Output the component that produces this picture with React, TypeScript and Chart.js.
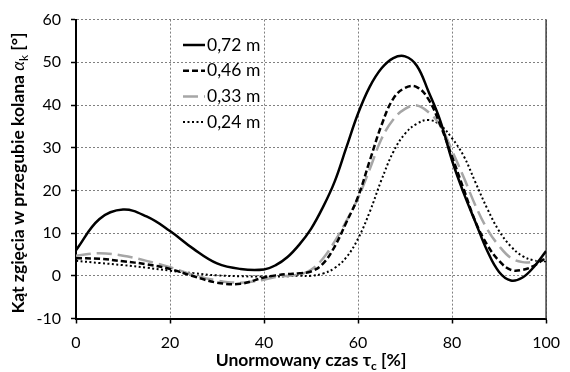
import React, { useEffect, useRef } from "react";
import { Chart, registerables } from "chart.js";

Chart.register(...registerables);

// Normalised time [%]
const time = [0, 5, 10, 15, 20, 25, 30, 35, 40, 42.5, 45, 47.5, 50, 52.5, 55, 57.5, 60, 62.5, 65, 67.5, 70, 72.5, 75, 77.5, 80, 82.5, 85, 87.5, 90, 92.5, 95, 97.5, 100];

const seriesLabels = ["0,72 m", "0,46 m", "0,33 m", "0,24 m"];

const s072 = [6.0, 13.3, 15.5, 13.9, 10.5, 6.3, 2.9, 1.6, 1.5, 2.5, 4.4, 7.3, 11.0, 16.0, 22.0, 30.0, 38.0, 44.3, 48.6, 51.0, 51.4, 49.2, 43.1, 36.3, 27.0, 19.3, 12.5, 5.8, 0.9, -1.1, -0.4, 2.2, 5.8];
const s046 = [4.1, 4.0, 3.4, 2.7, 1.6, -0.1, -1.6, -1.85, -0.4, 0.1, 0.4, 0.6, 1.0, 2.8, 6.8, 12.5, 18.5, 27.0, 35.3, 41.5, 44.0, 44.2, 41.3, 35.3, 27.9, 20.2, 12.6, 7.2, 3.5, 1.4, 1.4, 2.4, 4.3];
const s033 = [4.7, 5.3, 4.7, 3.5, 2.0, 0.2, -1.1, -1.6, -0.9, -0.3, 0.0, 0.3, 1.4, 4.0, 8.0, 12.8, 18.2, 25.0, 32.1, 36.6, 39.1, 39.9, 38.3, 35.2, 29.3, 23.0, 16.4, 10.9, 7.0, 4.2, 3.2, 3.3, 3.8];
const s024 = [3.5, 3.0, 2.5, 1.9, 1.2, 0.6, 0.1, -0.1, -0.2, -0.2, -0.1, 0.0, 0.0, 0.5, 1.8, 4.3, 8.7, 15.0, 22.5, 29.0, 33.3, 35.6, 36.5, 35.3, 32.2, 28.0, 21.8, 15.7, 10.5, 6.9, 4.6, 3.6, 3.4];

const xTicks = [0, 20, 40, 60, 80, 100];
const yTicks = [-10, 0, 10, 20, 30, 40, 50, 60];

const FONT = 'Lato, "Open Sans", "DejaVu Sans", sans-serif';

type Part = { text: string; font: string; dy?: number };

function drawRich(ctx: CanvasRenderingContext2D, parts: Part[], cx: number, y: number) {
  let total = 0;
  for (const p of parts) {
    ctx.font = p.font;
    total += ctx.measureText(p.text).width;
  }
  let x = cx - total / 2;
  for (const p of parts) {
    ctx.font = p.font;
    ctx.fillText(p.text, x, y + (p.dy || 0));
    x += ctx.measureText(p.text).width;
  }
}

const decorPlugin = {
  id: "decor",
  beforeDatasetsDraw(chart: any) {
    const { ctx, chartArea } = chart;
    ctx.save();
    ctx.strokeStyle = "#404040";
    ctx.lineWidth = 1.5;
    ctx.beginPath();
    ctx.moveTo(chartArea.right, chartArea.top);
    ctx.lineTo(chartArea.right, chartArea.bottom);
    ctx.stroke();
    ctx.restore();
  },
  afterDraw(chart: any) {
    const { ctx, chartArea } = chart;
    ctx.save();
    // legend
    chart.data.datasets.forEach((ds: any, i: number) => {
      const y = 45 + i * 25.7;
      const x0 = chartArea.left + 107;
      ctx.beginPath();
      ctx.setLineDash(ds.borderDash || []);
      ctx.strokeStyle = ds.borderColor;
      ctx.lineWidth = ds.borderWidth;
      ctx.moveTo(x0, y);
      ctx.lineTo(x0 + 22, y);
      ctx.stroke();
      ctx.setLineDash([]);
      ctx.fillStyle = "#000";
      ctx.font = `17.5px ${FONT}`;
      ctx.textBaseline = "middle";
      ctx.textAlign = "left";
      ctx.fillText(ds.label, x0 + 24, y);
    });
    // x title
    ctx.fillStyle = "#000";
    ctx.textBaseline = "alphabetic";
    ctx.textAlign = "left";
    const cx = (chartArea.left + chartArea.right) / 2;
    drawRich(
      ctx,
      [
        { text: "Unormowany czas τ", font: `bold 17.5px ${FONT}` },
        { text: "c", font: `bold 12px ${FONT}`, dy: 4 },
        { text: " [%]", font: `bold 17.5px ${FONT}` },
      ],
      cx,
      366
    );
    // y title
    ctx.translate(24, (chartArea.top + chartArea.bottom) / 2 + 4);
    ctx.rotate(-Math.PI / 2);
    drawRich(
      ctx,
      [
        { text: "Kąt zgięcia w przegubie kolana ", font: `bold 17.5px ${FONT}` },
        { text: "α", font: `italic 17.5px ${FONT}` },
        { text: "k", font: `12px ${FONT}`, dy: 4 },
        { text: " [°]", font: `bold 17.5px ${FONT}` },
      ],
      0,
      0
    );
    ctx.restore();
  },
};

export default function App() {
  const ref = useRef<HTMLCanvasElement | null>(null);

  useEffect(() => {
    if (!ref.current) return;
    const mk = (arr: number[]) => time.map((t, i) => ({ x: t, y: arr[i] }));
    const chart = new Chart(ref.current, {
      type: "line",
      data: {
        datasets: [
          { label: seriesLabels[0], data: mk(s072), borderColor: "#000000", borderWidth: 2.5, borderDash: [] },
          { label: seriesLabels[1], data: mk(s046), borderColor: "#000000", borderWidth: 2.5, borderDash: [6, 3] },
          { label: seriesLabels[2], data: mk(s033), borderColor: "#a6a6a6", borderWidth: 2.5, borderDash: [15, 6] },
          { label: seriesLabels[3], data: mk(s024), borderColor: "#000000", borderWidth: 2, borderDash: [2, 2.5] },
        ] as any,
      },
      options: {
        responsive: false,
        animation: false,
        layout: { padding: { top: 17.5, right: 17.5, left: 0, bottom: 0 } },
        elements: { point: { radius: 0 }, line: { tension: 0.4, fill: false } },
        plugins: { legend: { display: false }, tooltip: { enabled: false } },
        scales: {
          x: {
            type: "linear",
            min: 0,
            max: 100,
            afterBuildTicks: (s: any) => { s.ticks = xTicks.map((v) => ({ value: v })); },
            afterFit: (s: any) => { s.height = 53.5; },
            ticks: { color: "#000", font: { family: FONT, size: 16 }, padding: 10 },
            grid: { color: "#808080", lineWidth: 1, tickColor: "#000", tickWidth: 1.5, tickLength: 5 },
            border: { color: "#000", width: 2, dash: [2, 2] },
          },
          y: {
            type: "linear",
            min: -10,
            max: 60,
            afterBuildTicks: (s: any) => { s.ticks = yTicks.map((v) => ({ value: v })); },
            afterFit: (s: any) => { s.width = 76; },
            ticks: { color: "#000", font: { family: FONT, size: 16 }, padding: 10 },
            grid: { color: "#808080", lineWidth: 1, tickColor: "#000", tickWidth: 1.5, tickLength: 5 },
            border: { color: "#000", width: 2, dash: [2, 2] },
          },
        },
      } as any,
      plugins: [decorPlugin],
    });
    return () => chart.destroy();
  }, []);

  return (
    <div style={{ position: "absolute", left: 0, top: 0, width: 570, height: 372, background: "#fff" }}>
      <canvas ref={ref} width={570} height={372} style={{ width: 570, height: 372 }} />
    </div>
  );
}
